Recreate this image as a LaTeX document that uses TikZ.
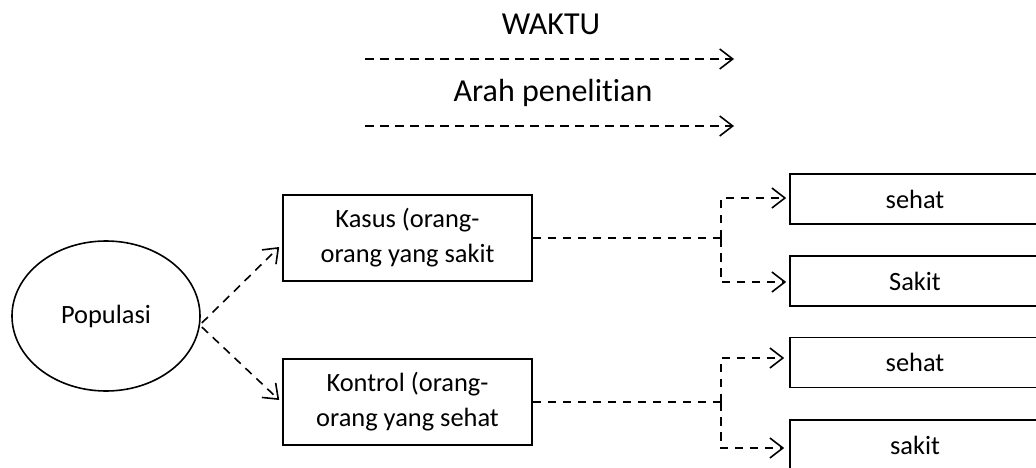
\documentclass[tikz,border=0pt]{standalone}
\usepackage{fontspec}
\setmainfont[Ligatures={NoCommon}]{Carlito}
\usetikzlibrary{arrows.meta,shapes.geometric,calc}
\begin{document}
\begin{tikzpicture}[x=1pt,y=-1pt,
  boxtext/.style={font=\fontsize{26.4}{35}\selectfont},
  box/.style={boxtext,draw,line width=1.6pt,rectangle,inner sep=0pt,
    minimum width=249pt,align=center},
  popnode/.style={boxtext,draw,ellipse,line width=1.6pt,minimum width=188pt,
    minimum height=150pt,inner sep=0pt},
  dline/.style={line width=1.6pt,dash pattern=on 8.5pt off 6.5pt},
  darrow/.style={dline,-{Straight Barb[length=13pt,width=20pt,line width=1.6pt]}},
  toplabel/.style={anchor=base,inner sep=0pt,font=\fontsize{32}{38}\selectfont}
]
% canvas
\path[use as bounding box,clip] (0,0) rectangle (1036,468);
\fill[white] (0,0) rectangle (1036,468);

% time and research direction
\node[toplabel] (waktu) at (551,35) {WAKTU};
\coordinate (w1) at (365,59);
\coordinate (w2) at (734,59);
\draw[darrow] (w1) -- (w2);
\node[toplabel] (arah) at (553,102) {Arah penelitian};
\coordinate (a1) at (365,126);
\coordinate (a2) at (734,126);
\draw[darrow] (a1) -- (a2);

% population and the two groups
\node[popnode] (pop) at (106,316) {Populasi};
\node[box,minimum height=86pt] (kasus) at (407.5,238) {Kasus (orang-\\orang yang sakit};
\node[box,minimum height=86pt] (kontrol) at (407.5,402) {Kontrol (orang-\\orang yang sehat};

\draw[darrow] ($(pop.east)+(1,7)$) -- ($(kasus.west)+(-3,9)$);
\draw[darrow] ($(pop.east)+(1,11)$) -- ($(kontrol.west)+(-3,-2)$);

% outcomes
\node[box,minimum width=250pt,minimum height=50pt] (sehatA) at (915,199) {sehat};
\node[box,minimum width=250pt,minimum height=50pt] (sakitA) at (915,281) {Sakit};
\node[box,minimum width=250pt,minimum height=50pt] (sehatB) at (915,362.5) {sehat};
\node[box,minimum width=250pt,minimum height=50pt] (sakitB) at (915,445) {sakit};

% branching connectors
\coordinate (j1) at ($(kasus.east)+(188,0)$);
\draw[dline] (kasus.east) -- (j1);
\draw[darrow] (j1) |- ($(sehatA.west)+(-3,-1)$);
\draw[darrow] (j1) |- ($(sakitA.west)+(-3,1)$);

\coordinate (j2) at ($(kontrol.east)+(188,0)$);
\draw[dline] (kontrol.east) -- (j2);
\draw[darrow] (j2) |- ($(sehatB.west)+(-5,-4.5)$);
\draw[darrow] (j2) |- ($(sakitB.west)+(-5,3)$);
\end{tikzpicture}
\end{document}
